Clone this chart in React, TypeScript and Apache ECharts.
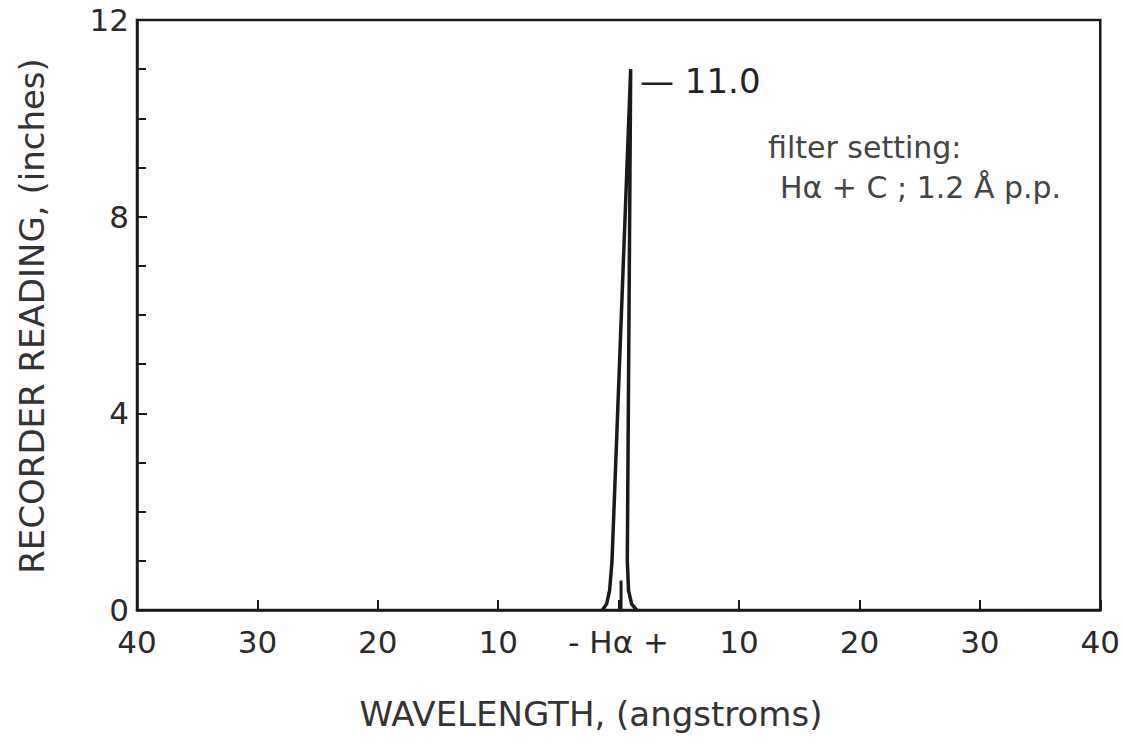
import React, { useEffect, useRef } from "react";
import * as echarts from "echarts";

// Wavelength offset from H-alpha (angstroms) and recorder reading (inches)
const peakX = [-1.35, -1.0, -0.75, -0.55, 1.0, 0.72, 0.82, 1.08, 1.5];
const peakY = [0, 0.12, 0.4, 1.0, 11.0, 1.0, 0.4, 0.12, 0];
const spikeX = [0.2, 0.2];
const spikeY = [0, 0.6];
const xTickLabels: Record<number, string> = {
  [-40]: "40", [-30]: "30", [-20]: "20", [-10]: "10", 0: "- Hα +",
  10: "10", 20: "20", 30: "30", 40: "40",
};
const yTickLabels: Record<number, string> = { 0: "0", 4: "4", 8: "8", 12: "12" };
const peakLabel = "— 11.0";
const noteLines = ["filter setting:", "Hα + C ; 1.2 Å p.p."];
const xTitle = "WAVELENGTH, (angstroms)";
const yTitle = "RECORDER READING, (inches)";

const FONT = "DejaVu Sans";
const INK = "#1a1a1a";

export default function App() {
  const ref = useRef<HTMLDivElement>(null);
  useEffect(() => {
    if (!ref.current) return;
    const chart = echarts.init(ref.current, undefined, { renderer: "svg" });
    const peak = peakX.map((x, i) => [x, peakY[i]]);
    const spike = spikeX.map((x, i) => [x, spikeY[i]]);
    chart.setOption({
      animation: false,
      backgroundColor: "#ffffff",
      grid: {
        left: 137, right: 18, top: 20, bottom: 136,
        show: true, borderColor: INK, borderWidth: 2.5,
      },
      xAxis: {
        type: "value", min: -40, max: 40, interval: 10,
        axisLine: { show: true, onZero: false, lineStyle: { color: INK, width: 2.5 } },
        axisTick: { show: true, inside: true, length: 10, lineStyle: { color: INK, width: 2 } },
        splitLine: { show: false },
        axisLabel: {
          margin: 16, fontSize: 31, fontFamily: FONT, color: "#2a2a2a",
          formatter: (v: number) => xTickLabels[v] ?? "",
        },
      },
      yAxis: {
        type: "value", min: 0, max: 12, interval: 4,
        axisLine: { show: true, onZero: false, lineStyle: { color: INK, width: 2.5 } },
        axisTick: { show: true, inside: true, length: 10, lineStyle: { color: INK, width: 2 } },
        minorTick: { show: true, splitNumber: 4, length: 9, lineStyle: { color: INK, width: 2 } },
        splitLine: { show: false },
        axisLabel: {
          margin: 8, fontSize: 31, fontFamily: FONT, color: "#2a2a2a",
          formatter: (v: number) => yTickLabels[v] ?? "",
        },
      },
      series: [
        {
          type: "line", data: peak, showSymbol: false, symbol: "none",
          lineStyle: { color: INK, width: 3.5 }, smooth: false,
        },
        {
          type: "line", data: spike, showSymbol: false, symbol: "none",
          lineStyle: { color: INK, width: 3 },
        },
      ],
      graphic: [
        {
          type: "text", left: 640, top: 64,
          style: { text: peakLabel, fontSize: 34, fontFamily: FONT, fill: "#222" },
        },
        {
          type: "text", left: 768, top: 132,
          style: { text: noteLines[0], fontSize: 30, fontFamily: FONT, fill: "#444" },
        },
        {
          type: "text", left: 780, top: 172,
          style: { text: noteLines[1], fontSize: 30, fontFamily: FONT, fill: "#444" },
        },
        {
          type: "text", x: 591, y: 714,
          style: { text: xTitle, fontSize: 34, fontFamily: FONT, fill: "#333", align: "center", verticalAlign: "middle" },
        },
        {
          type: "text", x: 32, y: 316, rotation: Math.PI / 2,
          style: { text: yTitle, fontSize: 34, fontFamily: FONT, fill: "#333", align: "center", verticalAlign: "middle" },
        },
      ],
    });
    return () => chart.dispose();
  }, []);
  return <div ref={ref} style={{ width: 1123, height: 746, position: "absolute", left: 0, top: 0 }} />;
}
